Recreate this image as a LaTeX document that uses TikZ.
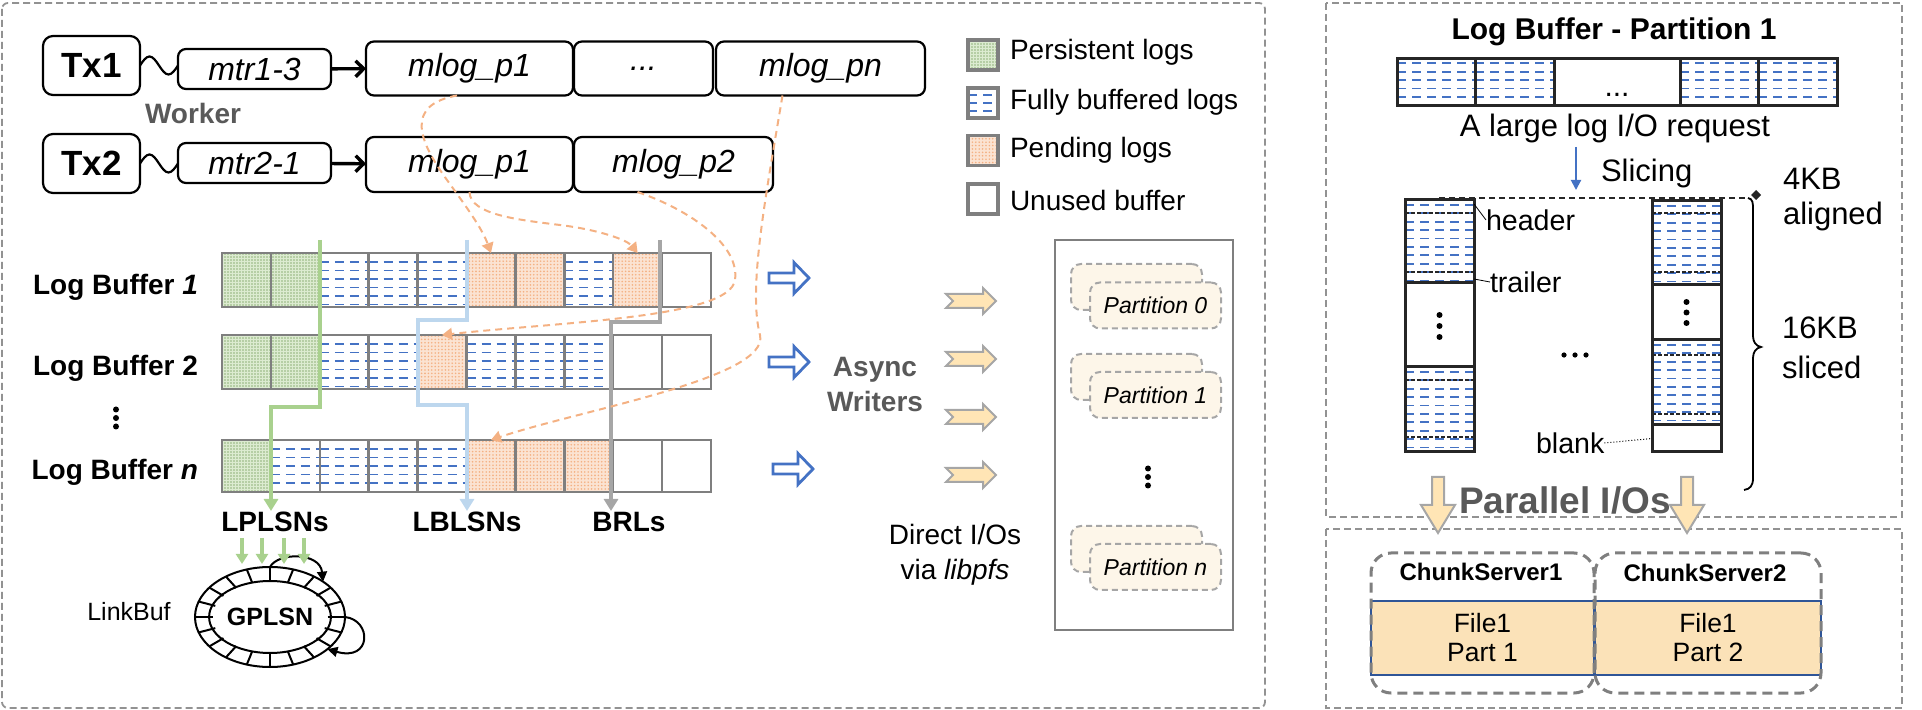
\documentclass[tikz,border=0pt]{standalone}
\usepackage{fontspec}
\setmainfont{Liberation Sans}
\usetikzlibrary{arrows.meta,shapes.geometric,patterns.meta,calc}
\definecolor{cellgray}{HTML}{7F7F7F}
\definecolor{dashblue}{HTML}{4472C4}
\definecolor{pgreen}{HTML}{A9D18E}
\definecolor{pgreenbg}{HTML}{DCEBD0}
\definecolor{porange}{HTML}{F4B183}
\definecolor{porangebg}{HTML}{FBE3D2}
\definecolor{lblue}{HTML}{BDD7EE}
\definecolor{lgray}{HTML}{A6A6A6}
\definecolor{txtgray}{HTML}{595959}
\definecolor{yel}{HTML}{FFE5B5}
\definecolor{partbg}{HTML}{FDF6E9}
\definecolor{filebg}{HTML}{FBE2B8}
\definecolor{fileblue}{HTML}{2F5597}
\definecolor{dark}{HTML}{262626}
\tikzset{
  every node/.style={inner sep=0pt,outer sep=0pt},
  bluelines/.style 2 args={path picture={\foreach \k in {0,...,12}{\draw[dashblue,line width=0.9pt,dash pattern=on 4.5pt off 3pt] ([yshift=-#1-\k*#2]path picture bounding box.north west) -- ([yshift=-#1-\k*#2]path picture bounding box.north east);}}},
  txbox/.style={draw,line width=1.1pt,rounded corners=5pt,minimum width=48.5pt,minimum height=29.5pt,font=\fontsize{17.5pt}{20pt}\selectfont\bfseries},
  mtrbox/.style={draw,line width=1.1pt,rounded corners=4pt,minimum width=76.5pt,minimum height=20pt,font=\fontsize{16pt}{19pt}\selectfont\itshape},
  mlogbox/.style={draw,line width=1.1pt,rounded corners=4pt,minimum height=27pt,font=\fontsize{16pt}{19pt}\selectfont\itshape},
  lcell/.style={draw=cellgray,line width=1.25pt,minimum width=24.45pt,minimum height=27pt},
  persist/.style={lcell,preaction={fill=pgreenbg},pattern={Dots[distance=1.5pt,radius=0.4pt]},pattern color=pgreen!85!black},
  pend/.style={lcell,preaction={fill=porangebg},pattern={Dots[distance=1.7pt,radius=0.45pt]},pattern color=porange},
  fullbuf/.style={lcell,fill=white,bluelines={4.5pt}{4.25pt}},
  unused/.style={lcell,fill=white},
  rcell/.style={draw=dark,line width=1.5pt,fill=white,minimum height=23.5pt},
  rfull/.style={rcell,bluelines={2.2pt}{4.2pt}},
  boldlbl/.style={font=\fontsize{14pt}{16pt}\selectfont\bfseries},
  plain/.style={font=\fontsize{14pt}{17.5pt}\selectfont},
  panel/.style={draw=cellgray!85,line width=0.9pt,dash pattern=on 3.5pt off 2pt},
  pdash/.style={porange,line width=1pt,dash pattern=on 3.5pt off 2.5pt,-{Triangle[length=5pt,width=6pt]}},
  lsn/.style={line width=2pt,-{Triangle[length=6pt,width=7pt]}},
  pstack/.style={draw=lgray,line width=1pt,dash pattern=on 3pt off 2pt,fill=partbg,rounded corners=5pt,minimum width=65.5pt,minimum height=23pt},
  csbox/.style={draw=cellgray,line width=1.5pt,dash pattern=on 5pt off 3pt,rounded corners=10pt,minimum height=70pt},
  filebox/.style={fill=filebg,draw=fileblue,line width=0.8pt,minimum height=37pt,align=center,font=\fontsize{13.25pt}{14.5pt}\selectfont},
}
\newcommand{\bluehollow}[2]{\draw[dashblue,line width=1.4pt,fill=white,line join=miter] (#1,#2-5) -- ++(25,0) -- ++(0,-10.5) -- ++(15,15.5) -- ++(-15,15.5) -- ++(0,-10.5) -- ++(-25,0) -- cycle;}
\newcommand{\yelnotch}[2]{\draw[lgray,line width=1pt,fill=yel,line join=miter] (#1,#2-7) -- ++(37,0) -- ++(0,-6) -- ++(13,13) -- ++(-13,13) -- ++(0,-6) -- ++(-37,0) -- ++(7,-7) -- cycle;}
\newcommand{\yeldown}[1]{\draw[lgray,line width=1pt,fill=yel,line join=miter] (#1-6,477) -- (#1+6,477) -- (#1+6,505) -- (#1+17,505) -- (#1,533) -- (#1-17,505) -- (#1-6,505) -- cycle;}
\newcommand{\vdotsat}[3]{\foreach \dd in {-1,0,1}{\fill (#1,{#2+(\dd)*(#3)}) circle[radius=1.5pt];}}
\begin{document}
\begin{tikzpicture}[x=0.5pt,y=-0.5pt]
\useasboundingbox (0,0) rectangle (1922,710);
% panels
\draw[panel,rounded corners=3pt] (2,3) rectangle (1265,708);
\draw[panel] (1326,3) rectangle (1902,517);
\draw[panel] (1326,529) rectangle (1902,708);

% transactions
\node[txbox] (tx1) at (91.5,65.5) {Tx1};
\node[mtrbox] (m13) at (254.5,69) {mtr1-3};
\node[mlogbox,minimum width=103.5pt] (a1p1) at (469.5,68.5) {mlog\_p1};
\node[mlogbox,minimum width=69.5pt] (adots) at (643.5,68.5) {...};
\node[mlogbox,minimum width=104.5pt] (apn) at (820.5,68.5) {mlog\_pn};
\node[txbox] (tx2) at (91.5,163.5) {Tx2};
\node[mtrbox] (m21) at (254.5,163) {mtr2-1};
\node[mlogbox,minimum width=103.5pt,minimum height=27.5pt] (b1p1) at (469.5,164.5) {mlog\_p1};
\node[mlogbox,minimum width=99.5pt,minimum height=27.5pt] (b1p2) at (673.5,164.5) {mlog\_p2};
\draw[line width=1.1pt] (tx1.east) sin ++(9.5,-9) cos ++(9.5,9) sin ++(9.5,9) cos ++(9.5,-9);
\draw[line width=1.1pt] (tx2.east) sin ++(9.5,-9) cos ++(9.5,9) sin ++(9.5,9) cos ++(9.5,-9);
\draw[line width=1.7pt,-{Straight Barb[length=4pt,width=8pt]}] (m13) -- (a1p1);
\draw[line width=1.7pt,-{Straight Barb[length=4pt,width=8pt]}] (m21) -- (b1p1);
\node[boldlbl,text=txtgray] (worker) at (193,113) {Worker};

% legend
\node[persist,minimum width=15pt,minimum height=15pt,line width=1.6pt] (lg1) at (983,55) {};
\node[fullbuf,bluelines={3.5pt}{4pt},minimum width=15pt,minimum height=15pt,line width=1.6pt] (lg2) at (983,103) {};
\node[pend,minimum width=15pt,minimum height=15pt,line width=1.6pt] (lg3) at (983,150.5) {};
\node[unused,minimum width=15pt,minimum height=15pt,line width=1.6pt] (lg4) at (983,199) {};
\node[plain,anchor=west] (lt1) at (1010,52) {Persistent logs};
\node[plain,anchor=west] (lt2) at (1010,102) {Fully buffered logs};
\node[plain,anchor=west] (lt3) at (1010,150) {Pending logs};
\node[plain,anchor=west] (lt4) at (1010,200) {Unused buffer};

% log buffers
\foreach \t [count=\i] in {persist,persist,fullbuf,fullbuf,fullbuf,pend,pend,fullbuf,pend,unused}
  \node[\t] (a\i) at ({222+48.9*(\i-0.5)},280) {};
\foreach \t [count=\i] in {persist,persist,fullbuf,fullbuf,pend,fullbuf,fullbuf,fullbuf,unused,unused}
  \node[\t] (b\i) at ({222+48.9*(\i-0.5)},362) {};
\foreach \t [count=\i] in {persist,fullbuf,fullbuf,fullbuf,fullbuf,pend,pend,pend,unused,unused}
  \node[\t,minimum height=26pt] (c\i) at ({222+48.9*(\i-0.5)},466) {};
\node[boldlbl,anchor=east] (lb1) at (198,287) {Log Buffer \textit{1}};
\node[boldlbl,anchor=east] (lb2) at (198,368) {Log Buffer 2};
\node[boldlbl,anchor=east] (lbn) at (198,472) {Log Buffer \textit{n}};
\vdotsat{116}{418}{8.5}

% LSN lines
\coordinate (gtop) at (320,240);
\coordinate (btop) at (467,240);
\coordinate (rtop) at (660,240);
\node[boldlbl] (lpl) at (275,522) {LPLSNs};
\node[boldlbl] (lbs) at (467,522) {LBLSNs};
\node[boldlbl] (brl) at (629,522) {BRLs};
\draw[lsn,pgreen] (gtop) -- (320,407) -- (271,407) -- (271,511);
\draw[lsn,lblue] (btop) -- (467,320) -- (418,320) -- (418,405) -- (467,405) -- (467,511);
\draw[lsn,lgray] (rtop) -- (660,322) -- (611,322) -- (611,511);

% orange pending arrows
\draw[pdash] ([xshift=-6.25pt]a1p1.south) .. controls (405,105) and (418,140) .. (447,180) .. controls (465,205) and (482,228) .. (a6.north);
\draw[pdash] (b1p1.south) .. controls (470,215) and (520,220) .. (560,225) .. controls (600,230) and (627,240) .. (a9.north);
\draw[pdash] ([xshift=-18pt]b1p2.south) .. controls (690,210) and (740,245) .. (735,280) .. controls (730,318) and (560,322) .. (b5.north);
\draw[pdash] ([xshift=-19pt]apn.south) .. controls (765,200) and (748,290) .. (760,335) .. controls (770,378) and (580,410) .. (c6.north);

% writers
\bluehollow{769}{278}
\bluehollow{769}{362}
\bluehollow{773}{469}
\node[boldlbl,text=txtgray,align=center,font=\fontsize{14pt}{17.5pt}\selectfont\bfseries] (aw) at (875,385) {Async\\Writers};
\yelnotch{946}{301}
\yelnotch{946}{359}
\yelnotch{946}{417}
\yelnotch{946}{475}
\node[plain,align=center] (dio) at (955,555) {Direct I/Os\\via \textit{libpfs}};

% partitions
\node[draw=cellgray,line width=1pt,minimum width=89pt,minimum height=195pt] (pbox) at (1144,435) {};
\node[pstack] (p0b) at (1136.5,287) {};
\node[pstack,font=\fontsize{11.5pt}{13pt}\selectfont\itshape] (p0) at (1155.5,305.5) {Partition 0};
\node[pstack] (p1b) at (1136.5,377) {};
\node[pstack,font=\fontsize{11.5pt}{13pt}\selectfont\itshape] (p1) at (1155.5,395) {Partition 1};
\node[pstack] (pnb) at (1136.5,549) {};
\node[pstack,font=\fontsize{11.5pt}{13pt}\selectfont\itshape] (pn) at (1155.5,567) {Partition n};
\vdotsat{1148}{477}{8.5}

% LinkBuf
\node[font=\fontsize{12.5pt}{14pt}\selectfont] (lbuf) at (129,612) {LinkBuf};
\node[ellipse,draw,line width=1pt,fill=white,minimum width=75pt,minimum height=50pt] (ring) at (270,617) {};
\node[ellipse,draw,line width=1pt,minimum width=57.5pt,minimum height=36pt,font=\fontsize{12.5pt}{14pt}\selectfont\bfseries] (gplsn) at (270,617) {GPLSN};
\foreach \a in {0,18,...,342}
  \draw[line width=1pt] ($(ring.center)+(\a:28.75pt and 18pt)$) -- ($(ring.center)+(\a:37.5pt and 25pt)$);
\draw[line width=1pt,-{Triangle[length=5pt,width=5pt]}] (ring.north) .. controls (278,552) and (320,552) .. ($(ring.center)+(45:37.5pt and 25pt)$);
\draw[line width=1pt,-{Triangle[length=5pt,width=5pt]}] (ring.east) .. controls (372,620) and (372,662) .. ($(ring.center)+(-40:37.5pt and 25pt)$);
\foreach \x in {242,262,284,304}
  \draw[pgreen,line width=2pt,-{Triangle[length=5pt,width=6pt]}] (\x,538) -- (\x,564);

% right panel
\node[font=\fontsize{15pt}{18pt}\selectfont\bfseries] (title) at (1614,32) {Log Buffer - Partition 1};
\node[rfull,minimum width=39pt] (r1) at (1436,82.5) {};
\node[rfull,minimum width=39.5pt] (r2) at (1514.5,82.5) {};
\node[rcell,minimum width=63pt] (r3) at (1617,82.5) {};
\node[rfull,minimum width=39pt] (r4) at (1719,82.5) {};
\node[rfull,minimum width=39.5pt] (r5) at (1797.5,82.5) {};
\node[font=\fontsize{15pt}{18pt}\selectfont,anchor=base] (r3dots) at (1617,97) {...};
\node[font=\fontsize{15.5pt}{18pt}\selectfont] (req) at (1615,128) {A large log I/O request};
\coordinate (slA) at (1576,147);
\coordinate (slB) at (1576,190);
\draw[dashblue,line width=1pt,-{Triangle[length=5pt,width=5pt]}] (slA) -- (slB);
\node[font=\fontsize{15.5pt}{18pt}\selectfont,anchor=west] (slc) at (1601,173) {Slicing};

% slices
\node[rfull,minimum width=34.5pt,minimum height=41.5pt,bluelines={2.5pt}{4.2pt}] (s1a) at (1439.5,241.5) {};
\node[rcell,minimum width=34.5pt,minimum height=42pt] (s1b) at (1439.5,325) {};
\node[rfull,minimum width=34.5pt,minimum height=42.5pt,bluelines={2.5pt}{4.2pt}] (s1c) at (1439.5,409.5) {};
\node[rfull,minimum width=34.5pt,minimum height=42pt,bluelines={2.5pt}{4.2pt}] (s2a) at (1686.5,243) {};
\node[rcell,minimum width=34.5pt,minimum height=27.5pt] (s2b) at (1686.5,312.5) {};
\node[rfull,minimum width=34.5pt,minimum height=42.5pt,bluelines={2.5pt}{4.2pt}] (s2c) at (1686.5,382.5) {};
\node[rcell,minimum width=34.5pt,minimum height=13.5pt] (s2d) at (1686.5,438.5) {};
\foreach \xa/\xb/\yy in {1405/1474/213,1405/1474/272,1405/1474/380,1405/1474/437,1652/1721/213,1652/1721/272,1652/1721/355,1652/1721/414}
  \draw[dark,line width=0.6pt,dash pattern=on 2pt off 1pt] (\xa,\yy) -- (\xb,\yy);
\vdotsat{1439.5}{326}{11}
\vdotsat{1686.5}{312.5}{10.5}
\foreach \xx in {1564,1575,1586} \fill (\xx,355) circle[radius=1.3pt];
\node[font=\fontsize{14.3pt}{17pt}\selectfont,anchor=west] (hdr) at (1486,220) {header};
\node[font=\fontsize{14.3pt}{17pt}\selectfont,anchor=west] (trl) at (1490,282) {trailer};
\node[font=\fontsize{14.3pt}{17pt}\selectfont,anchor=west] (blk) at (1536,443) {blank};
\draw[line width=0.4pt] ([yshift=-2pt]s1a.north east) -- (hdr.west);
\draw[line width=0.4pt] (1474,279) -- (trl.west);
\draw[line width=0.5pt,densely dotted] (blk.east) -- (s2d.west);
\draw[dark,line width=0.8pt,dash pattern=on 3pt off 2pt] (1439,198) -- (1748,198);
\draw[line width=0.9pt] (1748,198) .. controls (1753,199) and (1753,203) .. (1753,210) -- (1753,336) .. controls (1753,342) and (1756,346) .. (1761,347) .. controls (1756,348) and (1753,352) .. (1753,358) -- (1753,478) .. controls (1753,486) and (1750,489) .. (1744,490);
\node[diamond,fill=dark,minimum width=5pt,minimum height=5pt] (dia) at (1756,195) {};
\node[font=\fontsize{15.5pt}{17.5pt}\selectfont,anchor=west,align=left] (kb4) at (1783,200) {4KB\\aligned};
\node[font=\fontsize{15.5pt}{20pt}\selectfont,anchor=west,align=left] (kb16) at (1782,348) {16KB\\sliced};
\node[font=\fontsize{18.5pt}{22pt}\selectfont\bfseries,text=txtgray] (pio) at (1565,500) {Parallel I/Os};
\yeldown{1438}
\yeldown{1687}

% chunk servers
\node[filebox,minimum width=111.5pt] (f1) at (1482.5,638) {File1\\Part 1};
\node[filebox,minimum width=113pt] (f2) at (1708,638) {File1\\Part 2};
\node[csbox,minimum width=111.5pt] (cs1) at (1482.5,623) {};
\node[csbox,minimum width=113pt] (cs2) at (1708,623) {};
\node[font=\fontsize{12pt}{14pt}\selectfont\bfseries] (cs1t) at (1481,572) {ChunkServer1};
\node[font=\fontsize{12pt}{14pt}\selectfont\bfseries] (cs2t) at (1705,573) {ChunkServer2};
\end{tikzpicture}
\end{document}
